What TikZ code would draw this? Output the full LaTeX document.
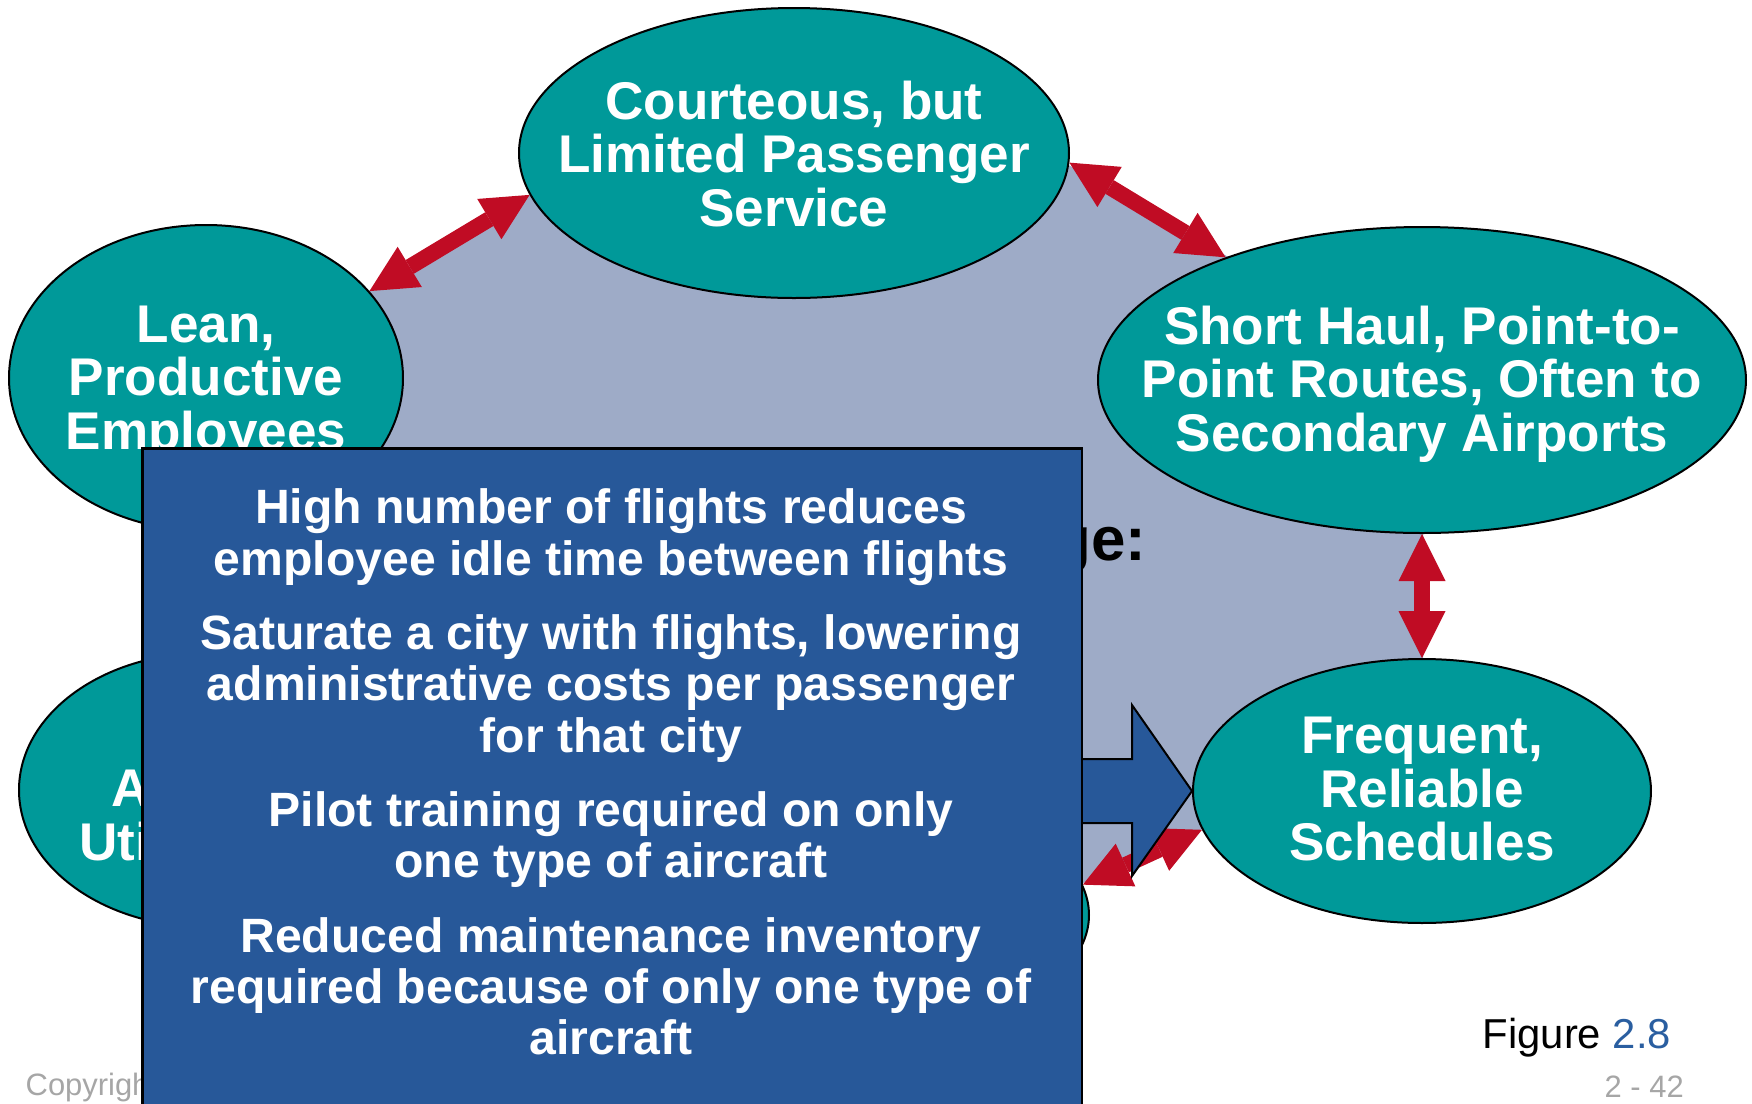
\documentclass[tikz,border=0pt]{standalone}
\usepackage{fontspec}
\setmainfont{Liberation Sans}
\usetikzlibrary{positioning,shapes.geometric,arrows.meta}
\definecolor{tealfill}{RGB}{0,153,153}
\definecolor{hexgray}{RGB}{158,171,199}
\definecolor{boxblue}{RGB}{39,88,153}
\definecolor{linkred}{RGB}{192,12,36}
\definecolor{figblue}{RGB}{42,94,160}
\definecolor{footgray}{RGB}{166,166,166}
\tikzset{
    oval/.style={ellipse, draw=black, line width=0.2mm, fill=tealfill, inner sep=0pt},
    ovaltext/.style={text=white, align=center, inner sep=0pt,
        font=\fontsize{15.1}{15.2}\selectfont\bfseries},
    link/.style={draw=linkred, line width=1.6mm,
        {Triangle[length=4.7mm,width=4.7mm,line width=0pt]}-{Triangle[length=4.7mm,width=4.7mm,line width=0pt]}},
    flow/.style={draw=black, line width=0.2mm, fill=boxblue, line join=miter}
}

\begin{document}
\begin{tikzpicture}[x=0.1mm,y=-0.1mm]
\tikzstyle{notebox}=[rectangle, draw=black, line width=0.25mm, fill=boxblue, inner sep=0pt]
\tikzstyle{notetext}=[text=white, align=center, inner sep=0pt, font=\fontsize{13.7}{14.6}\selectfont\bfseries]
\tikzstyle{foot}=[anchor=base west, inner sep=0pt]
\useasboundingbox (0,0) rectangle (1752,1104);

\fill[hexgray] (206,388) -- (820,22) -- (1423,369) -- (1423,729) -- (794,1014) -- (206,790) -- cycle;

\node[oval, minimum width=55mm, minimum height=29mm] (courteous) at (794,153) {};
\node[oval, minimum width=39.4mm, minimum height=30.6mm] (lean) at (206,378) {};
\node[oval, minimum width=64.8mm, minimum height=30.6mm] (shorthaul) at (1422,380) {};
\node[oval, minimum width=45.8mm, minimum height=26.4mm] (frequent) at (1422,791) {};
\node[oval, minimum width=37.4mm, minimum height=27.4mm] (aircraft) at (206,790) {};
\node[oval, minimum width=59mm, minimum height=27.6mm] (bottom) at (794,915) {};

\node[ovaltext] (courteoust) at (794,154) {Courteous, but\\Limited Passenger\\Service};
\node[ovaltext] (leant) at (206,383) {Lean,\\Productive\\Employees};
\node[ovaltext] (shorthault) at (1422,384) {Short Haul, Point-to-\\Point Routes, Often to\\Secondary Airports};
\node[ovaltext] (frequentt) at (1422,789) {Frequent,\\Reliable\\Schedules};
\node[ovaltext] (aircraftt) at (206,788) {High\\Aircraft\\Utilization};

\draw[link] (lean.28) -- (courteous.189);
\draw[link] (courteous.-2) -- (shorthaul.148);
\draw[link] (shorthaul.south) -- (frequent.north);
\draw[link] (frequent.190) -- (bottom.6);

\draw[flow] (frequent.west) -- ++(-60,-86) -- ++(0,54) -- ++(-63,0) -- ++(0,64)
    -- ++(63,0) -- ++(0,53) -- cycle;

\node[anchor=base east, inner sep=0pt, font=\fontsize{17.6}{20}\selectfont\bfseries] (adv) at (1147,560) {Advantage:};
\node[foot, text=footgray, font=\fontsize{8.8}{10}\selectfont] (copy) at (25,1095) {Copyright};

\node[notebox, minimum width=94mm, minimum height=66.2mm, anchor=north west] (notes) at (141,447) {};
\node[notetext] (notest) at (611,772) {High number of flights reduces\\employee idle time between flights\\[2.3mm]
    Saturate a city with flights, lowering\\administrative costs per passenger\\for that city\\[2.3mm]
    Pilot training required on only\\one type of aircraft\\[2.3mm]
    Reduced maintenance inventory\\required because of only one type of\\aircraft};

\node[foot, font=\fontsize{11.9}{14}\selectfont] (fig) at (1482,1048) {Figure \textcolor{figblue}{2.8}};
\node[foot, text=footgray, font=\fontsize{8.8}{10}\selectfont] (page) at (1604,1097) {2 - 42};
\end{tikzpicture}
\end{document}
